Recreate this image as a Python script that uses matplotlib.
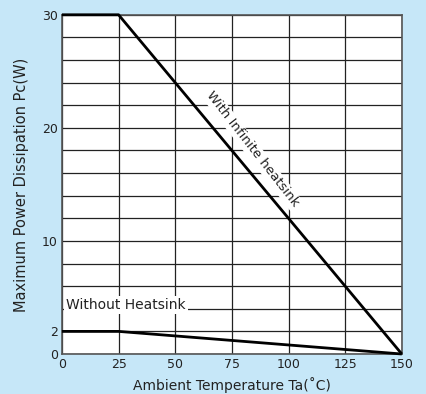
import numpy as np
import matplotlib.pyplot as plt

plt.rcParams['font.family'] = ['DejaVu Sans']

# derating curves
temp_inf = [0, 25, 150]
pc_inf = [30, 30, 0]
temp_no = [0, 25, 150]
pc_no = [2, 2, 0]

xticks = [0, 25, 50, 75, 100, 125, 150]
yticks = [0, 2, 10, 20, 30]

bg = '#c6e7f8'
fig = plt.figure(figsize=(4.27, 3.94), dpi=100, facecolor=bg)
ax = fig.add_axes([0.145, 0.1015, 0.796, 0.861])
ax.set_facecolor('white')

ax.set_xlim(0, 150)
ax.set_ylim(0, 30)
ax.set_xticks(xticks)
ax.set_yticks(np.arange(0, 31, 2), minor=True)
ax.set_yticks(yticks)
ax.set_xticklabels([str(t) for t in xticks])
ax.grid(True, which='both', color='#222222', lw=0.9)
ax.tick_params(which='both', length=0, labelsize=9, pad=3, labelcolor='#222222')
for s in ax.spines.values():
    s.set_color('#555555')
    s.set_linewidth(1.2)

ax.plot(temp_inf, pc_inf, color='black', lw=2, solid_capstyle='butt', clip_on=False, zorder=5)
ax.plot(temp_no, pc_no, color='black', lw=2, solid_capstyle='butt', clip_on=False, zorder=5)

ax.text(2, 4.3, 'Without Heatsink', fontsize=10, ha='left', va='center', color='#222222',
        bbox=dict(facecolor='white', edgecolor='none', pad=1.5))
ax.text(84, 18.1, 'With Infinite heatsink', fontsize=9.5, ha='center', va='center',
        rotation=-52, rotation_mode='anchor', color='#222222',
        bbox=dict(facecolor='white', edgecolor='none', pad=1))

ax.set_xlabel('Ambient Temperature Ta(˚C)', fontsize=10, labelpad=4, color='#222222')
ax.set_ylabel('Maximum Power Dissipation Pc(W)', fontsize=10.5, labelpad=9, color='#222222')

fig.savefig('out.png', dpi=100, facecolor=bg)
